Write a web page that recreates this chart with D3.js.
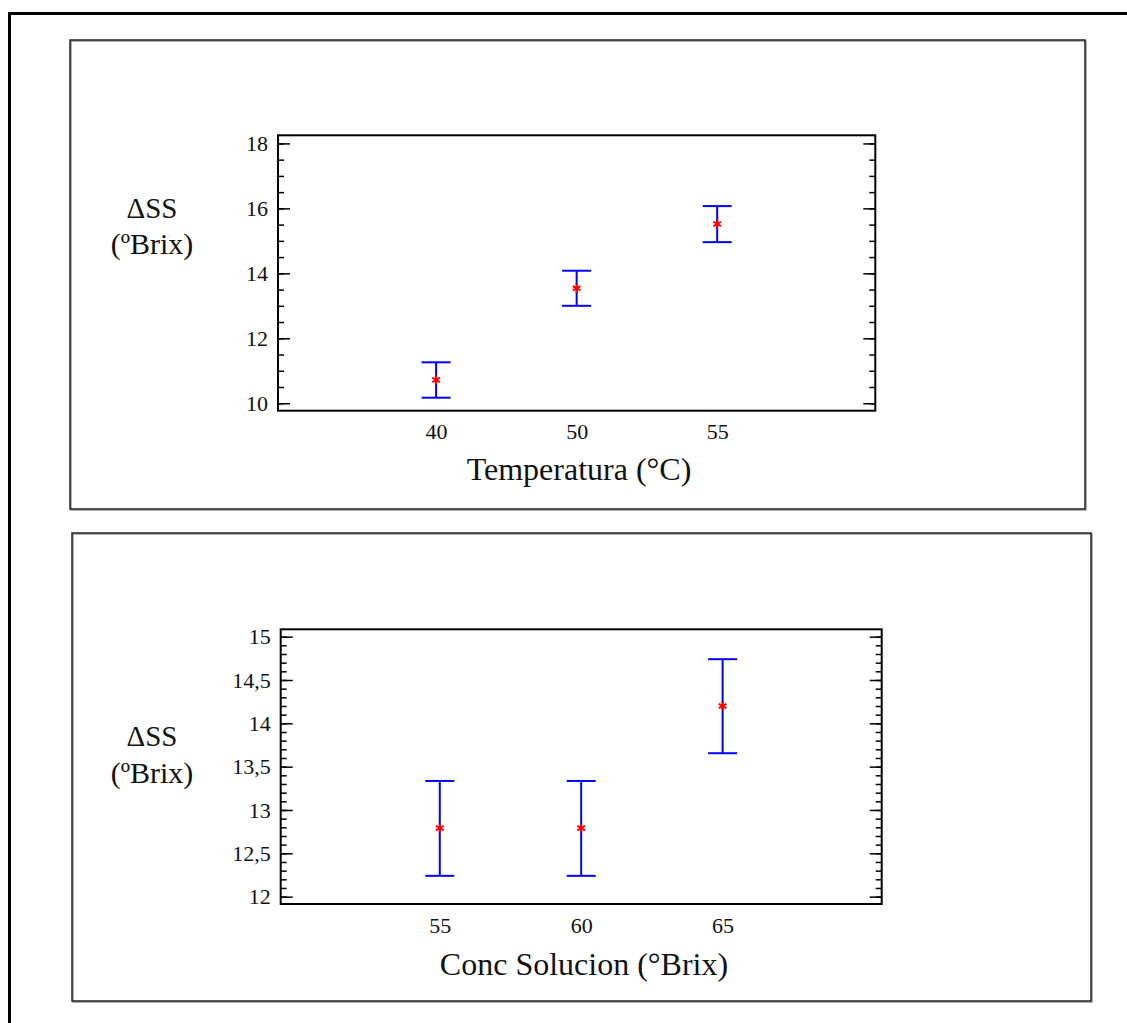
<!DOCTYPE html>
<html>
<head>
<meta charset="utf-8">
<script src="https://cdn.jsdelivr.net/npm/d3@7"></script>
<style>
  body { margin: 0; background: #fff; }
  text { font-family: "Liberation Serif", "Times New Roman", serif; fill: #111; }
</style>
</head>
<body>
<div id="chart"></div>
<script>
// data
let tempCats = ["40", "50", "55"];
let tempMeans = [10.72, 13.54, 15.52];
let tempLow = [10.17, 13.0, 14.96];
let tempHigh = [11.26, 14.08, 16.07];

let concCats = ["55", "60", "65"];
let concMeans = [12.79, 12.79, 14.2];
let concLow = [12.24, 12.24, 13.655];
let concHigh = [13.335, 13.335, 14.74];

let tempMajor = [10, 12, 14, 16, 18];
let concMajor = [12, 12.5, 13, 13.5, 14, 14.5, 15];

let svg = d3
  .select("#chart")
  .append("svg")
  .attr("width", 1127)
  .attr("height", 1023);

// outer page border (runs off right and bottom)
svg.append("path")
  .attr("d", "M9.5,1023 V13.5 H1127")
  .attr("fill", "none")
  .attr("stroke", "#000")
  .attr("stroke-width", 3);

function drawPanel(opt) {
  // panel frame with faint shadow
  svg.append("rect")
    .attr("x", opt.frame.x + 1).attr("y", opt.frame.y + 1)
    .attr("width", opt.frame.w).attr("height", opt.frame.h)
    .attr("fill", "none").attr("stroke", "#999").attr("stroke-width", 1.5);
  svg.append("rect")
    .attr("x", opt.frame.x).attr("y", opt.frame.y)
    .attr("width", opt.frame.w).attr("height", opt.frame.h)
    .attr("fill", "none").attr("stroke", "#222").attr("stroke-width", 1.5);

  let g = svg.append("g")
    .attr("transform", "translate(" + opt.plot.x + "," + opt.plot.y + ")");
  let w = opt.plot.w, h = opt.plot.h;

  let x = d3.scalePoint().domain(opt.cats).range([0, w]).padding(1.125);
  let y = d3.scaleLinear().domain(opt.yDomain).range([h, 0]);

  let fmt = (d) => String(+d.toFixed(2)).replace(".", ",");

  // minor ticks left + right
  g.append("g").attr("class", "minor")
    .call(d3.axisLeft(y).tickValues(opt.minor).tickSize(-6).tickFormat(""));
  g.append("g").attr("class", "minor")
    .attr("transform", "translate(" + w + ",0)")
    .call(d3.axisRight(y).tickValues(opt.minor).tickSize(-6).tickFormat(""));
  // major ticks
  g.append("g").attr("class", "major")
    .call(d3.axisLeft(y).tickValues(opt.major).tickSize(-12).tickPadding(10).tickFormat(fmt));
  g.append("g").attr("class", "major")
    .attr("transform", "translate(" + w + ",0)")
    .call(d3.axisRight(y).tickValues(opt.major).tickSize(-12).tickFormat(""));
  g.append("g")
    .attr("transform", "translate(0," + h + ")")
    .call(d3.axisBottom(x).tickSize(0).tickPadding(13));

  g.selectAll(".domain").remove();
  g.selectAll(".tick line").attr("stroke", "#000").attr("stroke-width", 1.5);
  g.selectAll(".tick text").style("font-size", "22px")
    .style("font-family", "'Liberation Serif', serif").attr("fill", "#111");

  // plot frame
  g.append("rect")
    .attr("width", w).attr("height", h)
    .attr("fill", "none").attr("stroke", "#000").attr("stroke-width", 2);

  let rows = opt.cats.map((c, i) => ({ c: c, m: opt.means[i], lo: opt.low[i], hi: opt.high[i] }));

  let bars = g.selectAll(".err").data(rows).enter().append("g").attr("class", "err")
    .attr("stroke", "#0000ff").attr("stroke-width", 2);
  bars.append("line")
    .attr("x1", (d) => x(d.c)).attr("x2", (d) => x(d.c))
    .attr("y1", (d) => y(d.lo)).attr("y2", (d) => y(d.hi));
  bars.append("line")
    .attr("x1", (d) => x(d.c) - 14.5).attr("x2", (d) => x(d.c) + 14.5)
    .attr("y1", (d) => y(d.hi)).attr("y2", (d) => y(d.hi));
  bars.append("line")
    .attr("x1", (d) => x(d.c) - 14.5).attr("x2", (d) => x(d.c) + 14.5)
    .attr("y1", (d) => y(d.lo)).attr("y2", (d) => y(d.lo));

  g.selectAll(".pt").data(rows).enter().append("path")
    .attr("class", "pt")
    .attr("transform", (d) => "translate(" + x(d.c) + "," + y(d.m) + ")")
    .attr("d", d3.symbol().type(d3.symbolAsterisk).size(55))
    .attr("fill", "none").attr("stroke", "#ff0000").attr("stroke-width", 2);

  // y label (two lines) and x title
  svg.append("text").attr("x", opt.ylab.x).attr("y", opt.ylab.y1)
    .attr("text-anchor", "middle").style("font-size", "29px").text("\u0394SS");
  svg.append("text").attr("x", opt.ylab.x).attr("y", opt.ylab.y2)
    .attr("text-anchor", "middle").style("font-size", "30px").text("(\u00baBrix)");
  svg.append("text").attr("x", opt.xtitle.x).attr("y", opt.xtitle.y)
    .attr("text-anchor", "middle").style("font-size", "32px").text(opt.xtitle.text);
}

drawPanel({
  frame: { x: 70, y: 40, w: 1015, h: 469 },
  plot: { x: 278, y: 135.3, w: 597.3, h: 275.4 },
  cats: tempCats, means: tempMeans, low: tempLow, high: tempHigh,
  yDomain: [9.77, 18.25],
  major: tempMajor,
  minor: d3.range(20, 37).map((v) => v / 2),
  ylab: { x: 152, y1: 218, y2: 254 },
  xtitle: { x: 579, y: 480, text: "Temperatura (\u00b0C)" }
});

drawPanel({
  frame: { x: 72, y: 533, w: 1019, h: 468 },
  plot: { x: 280.7, y: 629.3, w: 601, h: 274.7 },
  cats: concCats, means: concMeans, low: concLow, high: concHigh,
  yDomain: [11.915, 15.085],
  major: concMajor,
  minor: d3.range(120, 151).map((v) => v / 10),
  ylab: { x: 152, y1: 746, y2: 783 },
  xtitle: { x: 584, y: 975, text: "Conc Solucion (\u00b0Brix)" }
});
</script>
</body>
</html>
